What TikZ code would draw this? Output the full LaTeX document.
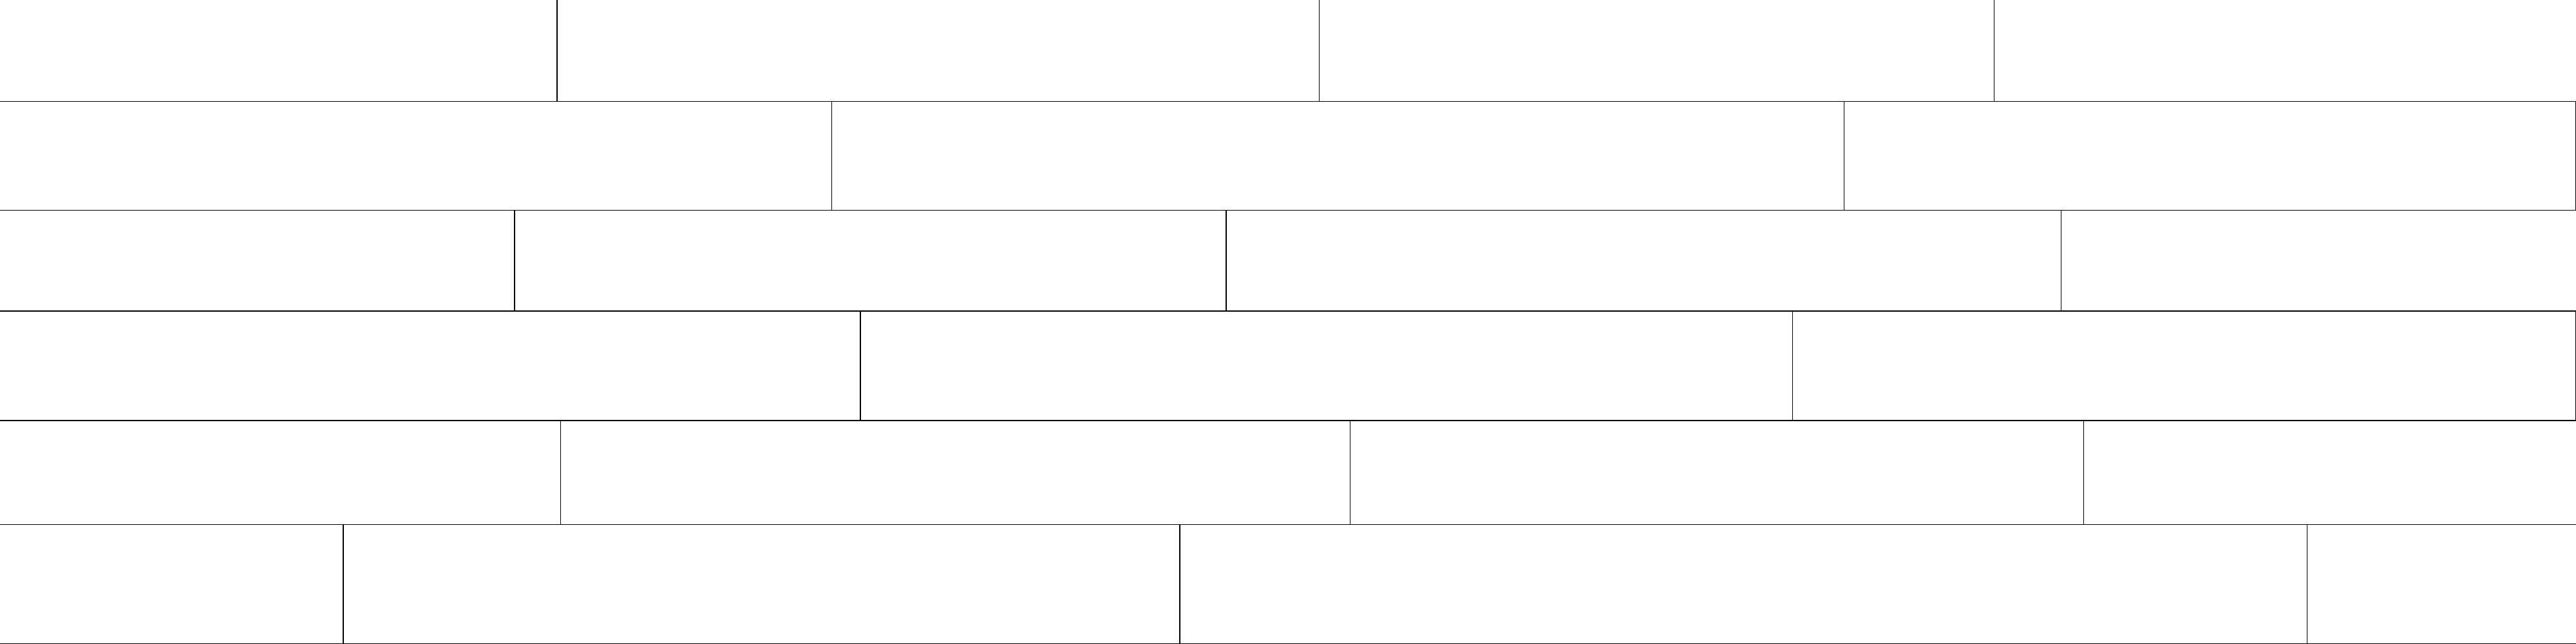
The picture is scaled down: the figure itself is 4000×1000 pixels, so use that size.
\documentclass[tikz,border=0pt]{standalone}
\begin{document}
\begin{tikzpicture}[x=0.01cm,y=-0.01cm,
  seam/.style={draw=black,line width=0.3pt,line cap=butt}]
\useasboundingbox (0,0) rectangle (4000,1000);
% horizontal seams between plank rows
\foreach \y in {157.5,326.5,483,653,814.3,999.5}
  \draw[seam] (0,\y) -- (4000,\y);
% vertical joints: top, bottom, list of x positions
\foreach \t/\b/\xs in {
    0/157.5/{865,2048.5,3096},
    157.5/326.5/{1291.5,2863.5,3999.5},
    326.5/483/{799,1904,3200},
    483/653/{1336,2783,3999.5},
    653/814.3/{870.5,2096,3235},
    814.3/999.5/{533,1832,3582}}
  \foreach \x in \xs
    \draw[seam] (\x,\t) -- (\x,\b);
\end{tikzpicture}
\end{document}
